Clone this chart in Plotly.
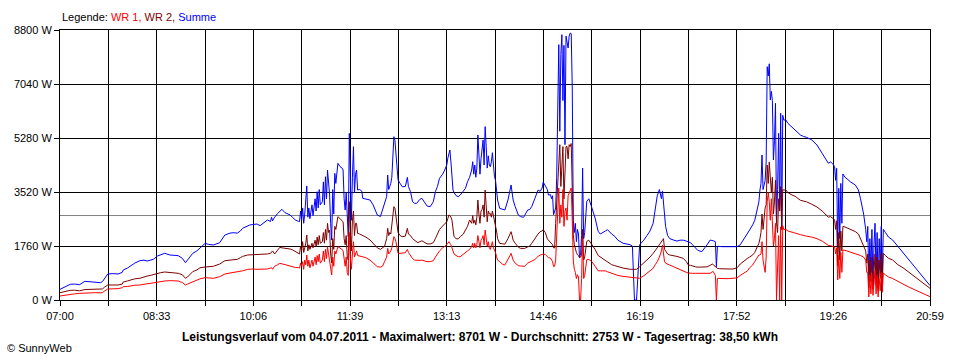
import plotly.graph_objects as go

# Zeitpunkte (HH:MM) und Leistungswerte in W
zeit = [
    "07:00","07:05","07:10","07:14","07:19","07:24","07:29","07:34","07:39","07:41",
    "07:43","07:46","07:51","07:56","08:00","08:01","08:05","08:08","08:12","08:17",
    "08:21","08:24","08:27","08:30","08:34","08:37","08:41","08:46","08:51","08:54",
    "08:58","09:01","09:03","09:08","09:12","09:15","09:20","09:23","09:28","09:34",
    "09:39","09:44","09:47","09:51","09:54","09:56","10:01","10:03","10:06","10:10",
    "10:13","10:16","10:20","10:23","10:24","10:25","10:27","10:30","10:32","10:34",
    "10:37","10:40","10:42","10:44","10:47","10:50","10:51","10:52","10:53","10:54",
    "10:55","10:56","10:57","10:58","10:59","11:00","11:01","11:03","11:04","11:06",
    "11:07","11:08","11:09","11:10","11:11","11:13","11:14","11:15","11:16","11:17",
    "11:18","11:19","11:20","11:21","11:22","11:23","11:24","11:25","11:26","11:28",
    "11:30","11:32","11:33","11:34","11:35","11:36","11:37","11:38","11:39","11:40",
    "11:41","11:42","11:43","11:44","11:45","11:46","11:47","11:49","11:51","11:52",
    "11:55","11:59","12:02","12:04","12:06","12:09","12:11","12:13","12:15","12:16",
    "12:17","12:18","12:19","12:20","12:21","12:22","12:23","12:24","12:25","12:26",
    "12:28","12:30","12:33","12:34","12:35","12:36","12:38","12:40","12:42","12:44",
    "12:45","12:47","12:49","12:52","12:54","12:57","13:00","13:02","13:04","13:06",
    "13:09","13:11","13:13","13:14","13:15","13:16","13:17","13:18","13:19","13:20",
    "13:22","13:24","13:26","13:29","13:31","13:33","13:35","13:37","13:38","13:39",
    "13:40","13:41","13:42","13:43","13:44","13:45","13:46","13:47","13:48","13:49",
    "13:50","13:51","13:52","13:53","13:54","13:55","13:56","13:57","13:58","13:59",
    "14:00","14:01","14:02","14:04","14:07","14:09","14:12","14:14","14:15","14:16",
    "14:17","14:19","14:22","14:24","14:27","14:28","14:31","14:33","14:35","14:38",
    "14:41","14:43","14:45","14:46","14:48","14:50","14:51","14:53","14:54","14:55",
    "14:56","14:57","14:58","14:59","15:00","15:01","15:02","15:03","15:04","15:05",
    "15:06","15:07","15:08","15:09","15:10","15:11","15:12","15:13","15:14","15:15",
    "15:16","15:17","15:18","15:19","15:20","15:21","15:22","15:23","15:24","15:25",
    "15:26","15:28","15:30","15:33","15:36","15:39","15:41","15:46","15:48","15:52",
    "15:55","15:58","16:03","16:10","16:12","16:14","16:16","16:19","16:23","16:26",
    "16:29","16:32","16:34","16:36","16:38","16:40","16:41","16:42","16:43","16:44",
    "16:46","16:48","16:52","16:55","16:58","17:01","17:04","17:06","17:08","17:10",
    "17:13","17:15","17:19","17:22","17:24","17:27","17:29","17:30","17:32","17:33",
    "17:34","17:36","17:39","17:43","17:46","17:49","17:53","17:56","17:59","18:03",
    "18:05","18:08","18:10","18:12","18:14","18:15","18:16","18:17","18:18","18:20",
    "18:21","18:22","18:23","18:24","18:25","18:26","18:27","18:28","18:29","18:30",
    "18:31","18:32","18:33","18:34","18:35","18:36","18:37","18:38","18:40","18:42",
    "18:46","18:49","18:54","18:57","19:00","19:05","19:10","19:15","19:18","19:21",
    "19:23","19:25","19:27","19:28","19:29","19:30","19:31","19:32","19:33","19:34",
    "19:35","19:37","19:39","19:42","19:47","19:50","19:52","19:55","19:57","19:58",
    "19:59","20:00","20:01","20:02","20:03","20:04","20:05","20:06","20:07","20:08",
    "20:09","20:10","20:11","20:12","20:13","20:14","20:16","20:19","20:23","20:28",
    "20:33","20:38","20:43","20:47","20:51","20:55","20:59",
]

wr1 = [
    130,160,196,200,217,230,235,238,235,240,
    290,359,365,370,400,435,440,460,480,489,
    520,530,540,560,598,610,620,630,625,620,
    570,489,520,598,640,690,728,720,707,760,
    847,880,900,910,924,950,1000,1010,1010,1000,
    1000,1010,1010,1040,1054,1000,1100,1150,1195,1180,
    1150,1120,1100,1080,1060,1054,1040,1200,1100,1250,
    1000,1300,1150,1467,1100,1300,1050,1300,1100,1400,
    1150,1450,1250,1500,1200,1300,1600,1250,1650,1350,
    1738,1500,1206,1000,815,1400,1100,1600,1500,1738,
    1700,1650,1600,1300,1100,1400,900,800,2200,1400,
    1000,1500,1900,1400,1521,1600,1450,1430,1420,1412,
    1380,1300,1200,1150,1086,1070,1100,1250,1400,1684,
    1500,1550,1600,1700,1900,2064,2000,1900,1700,1521,
    1521,1530,1540,1600,1650,1550,1450,1350,1300,1290,
    1282,1290,1300,1260,1250,1250,1280,1400,1500,1600,
    1700,1738,1800,1850,1900,1847,1800,1700,1600,1500,
    1450,1412,1412,1480,1542,1600,1650,1738,1850,1700,
    1850,1700,1800,2100,1900,1700,1950,2000,2100,1800,
    2281,2000,1750,1900,1700,1650,1800,1900,1700,1630,
    1550,1412,1300,1250,1160,1140,1300,1450,1521,1400,
    1300,1200,1120,1108,1100,1100,1200,1230,1270,1320,
    1420,1467,1480,1500,1480,1400,1380,1369,1300,1250,
    1086,1100,1300,2000,2800,3650,2500,3100,2700,3600,
    2400,2900,3000,2600,3400,3500,3600,3650,2600,1271,
    1000,900,700,825,750,0,0,700,2000,700,
    800,1314,1320,1250,1100,950,950,950,920,870,
    850,800,770,740,730,725,720,707,790,869,
    950,1032,1150,1250,1400,1600,1792,1500,1250,1200,
    1160,1140,1080,1030,980,924,900,880,869,869,
    870,869,869,870,880,869,920,924,800,0,
    707,700,700,695,700,707,720,800,869,950,
    1050,1140,1250,1350,1467,1467,1500,1900,1300,900,
    1400,3200,3500,3200,2600,3300,2500,1763,2000,2500,
    0,1400,2100,0,2384,0,2420,2300,2300,2250,
    2200,2180,2130,2100,2080,2050,2000,1920,1850,1780,
    1770,1760,1730,1500,1700,652,1450,700,1550,900,
    1630,1620,1600,1560,1520,1480,1450,1400,1300,900,
    900,100,800,200,850,150,700,950,200,800,
    98,700,300,900,250,880,820,750,700,600,
    520,430,360,290,230,170,110,
]

wr2 = [
    238,280,315,320,300,340,345,350,340,360,
    420,489,490,489,520,587,620,650,690,707,
    760,780,800,830,869,890,913,900,880,870,
    820,707,750,924,980,1050,1075,1086,1100,1173,
    1280,1300,1310,1325,1380,1420,1467,1470,1480,1470,
    1470,1475,1500,1521,1560,1600,1500,1650,1717,1700,
    1690,1680,1662,1640,1580,1521,1500,1750,1600,1900,
    1550,1700,1850,2119,1600,1800,1650,1850,1700,1950,
    1750,2050,1800,2100,1850,1900,2200,1850,2300,1950,
    2500,2200,2281,1500,1206,2000,1650,2400,2300,2716,
    2650,2600,2550,2000,1800,2100,1400,1300,3204,2200,
    1600,2607,2900,2100,2500,2500,2172,2150,2120,2100,
    2050,1955,1850,1760,1700,1651,1700,1750,2000,2336,
    2100,2200,2150,2400,2800,3041,3000,2700,2400,2200,
    2100,2064,2080,2200,2336,2150,2100,2000,1955,1900,
    1868,1900,1930,1870,1830,1825,1870,2000,2172,2300,
    2412,2500,2550,2650,2770,2750,2700,2600,2300,2064,
    2000,1990,2064,2150,2281,2400,2607,2500,2750,2500,
    2600,2450,2700,3259,2800,2500,2900,2950,3100,2700,
    3585,3000,2550,2900,2800,2824,2700,2900,2750,2500,
    2390,2250,2000,1847,1830,1820,2000,2150,2227,2100,
    1950,1850,1720,1684,1670,1680,1730,1760,1850,2010,
    2150,2227,2250,2292,2200,1990,1950,1901,1850,1800,
    1700,1695,2500,3200,3759,4500,5063,3700,4300,5000,
    3300,4000,5000,5000,4600,5063,5000,5100,3650,2129,
    1800,1650,1550,1477,1450,1380,1400,1450,2300,1300,
    1400,1912,1950,1800,1650,1450,1400,1300,1250,1150,
    1120,1080,1040,1000,1000,1000,1000,1086,1200,1304,
    1400,1521,1600,1700,1800,1900,1950,2000,1650,1600,
    1500,1467,1450,1420,1390,1358,1250,1140,1130,1100,
    1080,1070,1065,1070,1080,1130,1173,1150,1100,1050,
    1030,1020,1010,1010,1010,1010,1050,1173,1260,1358,
    1400,1467,1550,1700,1850,2000,2200,2800,2300,3000,
    3100,4400,3800,4500,3900,3500,4000,2800,3200,3900,
    2500,2200,3300,2900,3700,2300,3600,3585,3585,3500,
    3420,3380,3250,3220,3200,3120,3030,2900,2800,2700,
    2720,2680,2620,2300,2580,1100,2200,1300,2250,1600,
    2400,2380,2350,2300,2230,2150,2000,1800,1600,1200,
    1500,400,1300,600,1400,350,1200,1500,500,1400,
    300,1300,700,1500,500,1521,1450,1360,1304,1150,
    1050,920,800,680,580,480,380,
]

summe = [
    349,420,511,520,500,609,590,577,565,600,
    707,847,860,847,900,978,1040,1108,1200,1281,
    1300,1270,1300,1325,1434,1480,1521,1467,1460,1445,
    1358,1216,1304,1521,1600,1700,1847,1815,1792,1868,
    2119,2180,2194,2180,2250,2336,2420,2444,2460,2477,
    2423,2500,2607,2560,2700,2580,2700,2824,2900,2955,
    2846,2800,2770,2700,2607,2560,2553,2900,2600,3000,
    2500,2800,3200,3716,2700,3000,2650,3100,2750,3300,
    2900,3530,3000,3600,3100,3200,3850,3100,4018,3300,
    4237,3700,3422,2500,1955,3600,2800,4128,3800,4455,
    4350,4300,4237,3300,2933,3500,2400,2064,5432,3600,
    2600,4000,4997,3500,4100,4237,3585,3600,3550,3313,
    3300,3259,3096,2950,2770,2720,2933,3100,3367,4074,
    3600,3700,3800,4000,4889,5323,5200,4700,4200,3911,
    3800,3693,3700,3850,3997,3700,3530,3204,3150,3150,
    3200,3280,3313,3150,3063,3041,3200,3530,3700,3966,
    4100,4237,4400,4618,4800,4889,4500,4100,3585,3500,
    3400,3367,3422,3550,3639,3856,4000,4237,4509,4100,
    4400,4000,4300,5378,4500,4100,4600,4889,5215,4400,
    5650,5000,4300,4700,4400,4346,4500,4800,4237,4019,
    3900,3639,3259,2987,2950,2933,3259,3600,3748,3500,
    3259,3041,2770,2720,2694,2750,2933,2950,3050,3313,
    3585,3541,3650,3846,3700,3600,3422,3433,3300,3400,
    2781,2900,3000,4000,7235,8322,5500,8000,8648,6500,
    8300,5062,8600,8400,8213,8600,8701,8680,6910,2600,
    2200,2500,1900,2300,2150,1369,1500,2100,4300,2000,
    2200,3216,3300,2998,2672,2238,2150,2250,2292,2150,
    2075,1950,1850,1800,1760,0,0,1800,1950,2100,
    2250,2500,2900,3400,3600,3300,3550,3100,2600,2400,
    2100,2000,1950,1920,1950,1950,1920,1900,1870,1800,
    1700,1620,1575,1700,1800,1955,1950,1930,1900,1086,
    1750,1740,1738,1738,1740,1738,1738,1800,1950,2150,
    2280,2450,2600,2900,3200,3585,3800,4726,3600,3900,
    4500,7604,7300,7700,6518,6800,6500,4563,5200,6410,
    2500,3600,5432,2900,6084,2300,6020,5866,5866,5757,
    5627,5550,5378,5330,5302,5215,5052,4780,4618,4455,
    4500,4450,4350,3900,4291,1700,3639,2000,3800,2500,
    4106,4000,3950,3856,3748,3585,3300,2800,2300,1900,
    2400,600,2000,900,2300,500,1800,2500,700,2200,
    400,2000,1000,2400,800,2300,2200,2050,1955,1750,
    1550,1350,1150,950,800,650,470,
]

tick_labels = ["07:00", "08:33", "10:06", "11:39", "13:13", "14:46", "16:19", "17:52", "19:26", "20:59"]
y_ticks = [0, 1760, 3520, 5280, 7040, 8800]
durchschnitt = 2753
titel = ("Leistungsverlauf vom 04.07.2011 - Maximalwert: 8701 W - "
         "Durchschnitt: 2753 W - Tagesertrag: 38,50 kWh")

assert len(zeit) == len(wr1) == len(wr2) == len(summe), (len(zeit), len(wr1), len(wr2), len(summe))


def to_min(s):
    h, m = s.split(":")
    return int(h) * 60 + int(m)


x = [to_min(s) for s in zeit]
x0 = to_min(tick_labels[0])
x1 = to_min(tick_labels[-1])
n_grid = 2 * (len(tick_labels) - 1)
grid_vals = [x0 + i * (x1 - x0) / n_grid for i in range(n_grid + 1)]
grid_text = [tick_labels[i // 2] if i % 2 == 0 else "" for i in range(n_grid + 1)]

FONT = "Liberation Sans, Arial, sans-serif"

fig = go.Figure()
for name, vals, col in [("Summe", summe, "#0000FF"), ("WR 2", wr2, "#800000"), ("WR 1", wr1, "#FF0000")]:
    fig.add_trace(go.Scatter(x=x, y=vals, mode="lines", name=name,
                             line=dict(color=col, width=1), hoverinfo="skip"))

fig.add_shape(type="line", xref="paper", x0=0, x1=1, yref="y", y0=durchschnitt, y1=durchschnitt,
              line=dict(color="#808080", width=1), layer="below")

fig.update_layout(
    width=960, height=360,
    margin=dict(l=60, r=30, t=30, b=60),
    paper_bgcolor="white", plot_bgcolor="white",
    showlegend=False,
    font=dict(family=FONT, size=11, color="black"),
    xaxis=dict(range=[x0, x1], tickmode="array", tickvals=grid_vals, ticktext=grid_text,
               showgrid=True, gridcolor="black", gridwidth=1, zeroline=False,
               ticks="outside", ticklen=5, tickcolor="black", tickwidth=1,
               showline=True, mirror=True, linecolor="black", linewidth=1,
               tickfont=dict(family=FONT, size=11, color="black"), ticklabelstandoff=1),
    yaxis=dict(range=[0, 8800], tickmode="array", tickvals=y_ticks,
               ticktext=[f"{v} W" for v in y_ticks],
               showgrid=True, gridcolor="black", gridwidth=1, zeroline=False,
               ticks="outside", ticklen=5, tickcolor="black", tickwidth=1,
               showline=True, mirror=True, linecolor="black", linewidth=1,
               tickfont=dict(family=FONT, size=11, color="black")),
    annotations=[
        dict(xref="paper", yref="paper", x=0, y=1.048, xanchor="left", yanchor="middle",
             showarrow=False, font=dict(family=FONT, size=11, color="black"),
             text=("Legende: <span style='color:#FF0000'>WR 1, </span>"
                   "<span style='color:#800000'>WR 2, </span>"
                   "<span style='color:#0000FF'>Summe</span>")),
        dict(xref="paper", yref="paper", x=0.4828, y=-0.137, xanchor="center", yanchor="middle",
             showarrow=False, font=dict(family=FONT, size=12, color="black"),
             text=f"<b>{titel}</b>"),
        dict(xref="paper", yref="paper", x=-0.0632, y=-0.178, xanchor="left", yanchor="middle",
             showarrow=False, font=dict(family=FONT, size=11, color="black"),
             text="© SunnyWeb"),
    ],
)

fig.write_html("out.html", config={"displayModeBar": False},
               post_script="document.body.style.margin='0';")
